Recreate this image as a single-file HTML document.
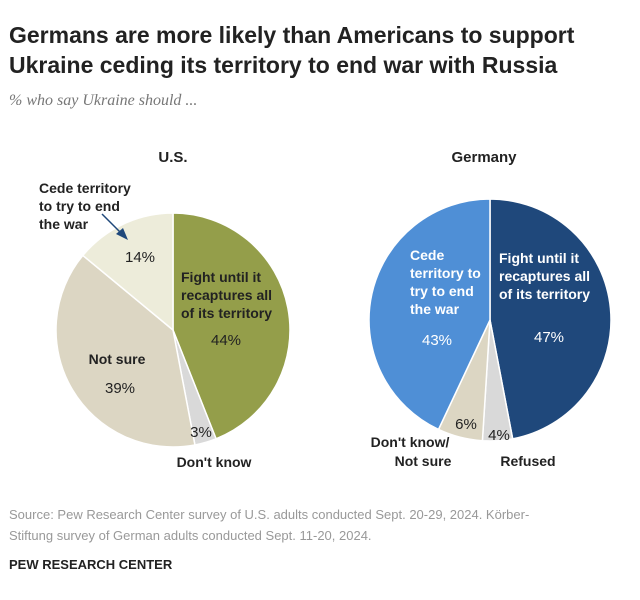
<!DOCTYPE html>
<html><head><meta charset="utf-8"><style>
body{margin:0;background:#fff;font-family:"Liberation Sans",Arial,sans-serif;}
#wrap{position:relative;width:640px;height:600px;overflow:hidden;}
.t{position:absolute;margin:0;}
</style></head><body>
<div id="wrap">
<div class="t" style="left:9px;top:20px;font-size:23px;font-weight:bold;line-height:30px;color:#222;letter-spacing:0px">Germans are more likely than Americans to support<br>Ukraine ceding its territory to end war with Russia</div>
<div class="t" style="left:9px;top:92px;font-size:16px;font-style:italic;color:#777;font-family:'Liberation Serif',serif">% who say Ukraine should ...</div>
<svg id="svg" width="640" height="600" style="position:absolute;left:0;top:0"></svg>
<div class="t" style="left:9px;top:504px;font-size:13px;line-height:21px;color:#999">Source: Pew Research Center survey of U.S. adults conducted Sept. 20-29, 2024. Körber-<br>Stiftung survey of German adults conducted Sept. 11-20, 2024.</div>
<div class="t" style="left:9px;top:557px;font-size:13px;font-weight:bold;color:#222">PEW RESEARCH CENTER</div>
</div>
<script>
const usCategories=["Fight until it recaptures all of its territory","Don't know","Not sure","Cede territory to try to end the war"];
const usValues=[44,3,39,14];
const deCategories=["Fight until it recaptures all of its territory","Refused","Don't know/Not sure","Cede territory to try to end the war"];
const deValues=[47,4,6,43];
const usColors=["#949e4a","#d9d9d9","#dcd6c3","#edecda"];
const deColors=["#1f487b","#d9d9d9","#dcd6c3","#4f8fd6"];
const NS="http://www.w3.org/2000/svg";
const svg=document.getElementById('svg');
function mk(tag,attrs){const e=document.createElementNS(NS,tag);for(const k in attrs)e.setAttribute(k,attrs[k]);svg.appendChild(e);return e;}
function pie(cx,cy,r,vals,colors,name){
  const total=vals.reduce((a,b)=>a+b,0);let a0=0;
  vals.forEach((v,i)=>{
    const a1=a0+v/total*2*Math.PI;
    const x0=cx+r*Math.sin(a0),y0=cy-r*Math.cos(a0),x1=cx+r*Math.sin(a1),y1=cy-r*Math.cos(a1);
    const large=(a1-a0)>Math.PI?1:0;
    const p=mk('path',{d:`M${cx},${cy}L${x0},${y0}A${r},${r} 0 ${large} 1 ${x1},${y1}Z`,fill:colors[i],stroke:'#fff','stroke-width':1.5});
    
    
    a0=a1;
  });
}
pie(173,330,117,usValues,usColors,'us');
pie(490,320,121,deValues,deColors,'germany');
function txt(x,y,s,o){const e=mk('text',Object.assign({x:x,y:y,'font-size':14,'font-family':'Liberation Sans, Arial, sans-serif',fill:'#222'},o||{}));e.textContent=s;return e;}
const B={'font-weight':'bold'};
txt(173,162,'U.S.',Object.assign({'text-anchor':'middle','font-size':15},B));
txt(484,162,'Germany',Object.assign({'text-anchor':'middle','font-size':15},B));
txt(39,193,'Cede territory',B);txt(39,211,'to try to end',B);txt(39,229,'the war',B);
mk('line',{x1:102,y1:214,x2:122,y2:234,stroke:'#1f487b','stroke-width':1.5});
mk('polygon',{points:'128,240 116,234 123,228',fill:'#1f487b'});
txt(140,262,'14%',{'text-anchor':'middle','font-size':15});
txt(181,282,'Fight until it',B);txt(181,300,'recaptures all',B);txt(181,318,'of its territory',B);
txt(226,345,'44%',{'text-anchor':'middle','font-size':15});
txt(117,364,'Not sure',Object.assign({'text-anchor':'middle'},B));
txt(120,393,'39%',{'text-anchor':'middle','font-size':15});
txt(201,437,'3%',{'text-anchor':'middle','font-size':15});
txt(214,467,'Don\'t know',Object.assign({'text-anchor':'middle'},B));
const W={fill:'#fff'};
txt(410,260,'Cede',Object.assign({},B,W));txt(410,278,'territory to',Object.assign({},B,W));txt(410,296,'try to end',Object.assign({},B,W));txt(410,314,'the war',Object.assign({},B,W));
txt(437,345,'43%',Object.assign({'text-anchor':'middle','font-size':15},W));
txt(499,263,'Fight until it',Object.assign({},B,W));txt(499,281,'recaptures all',Object.assign({},B,W));txt(499,299,'of its territory',Object.assign({},B,W));
txt(549,342,'47%',Object.assign({'text-anchor':'middle','font-size':15},W));
txt(466,429,'6%',{'text-anchor':'middle','font-size':15});
txt(499,440,'4%',{'text-anchor':'middle','font-size':15});
txt(410,447,'Don\'t know/',Object.assign({'text-anchor':'middle'},B));
txt(423,466,'Not sure',Object.assign({'text-anchor':'middle'},B));
txt(528,466,'Refused',Object.assign({'text-anchor':'middle'},B));
</script>
</body></html>
